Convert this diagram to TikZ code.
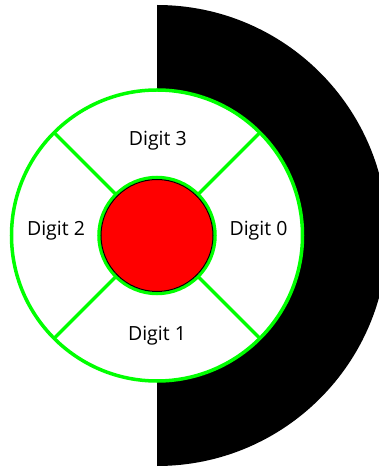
\documentclass[tikz,border=0pt]{standalone}
\usepackage{fontspec}
\setmainfont{Open Sans}
\usetikzlibrary{positioning}

\begin{document}
\begin{tikzpicture}[
  x=1pt, y=1pt,
  ring/.style={draw=green, line width=3.5pt, circle, inner sep=0pt, outer sep=0pt},
  spoke/.style={draw=green, line width=3.5pt},
  digit/.style={font=\fontsize{19.5}{19.5}\selectfont, inner sep=0pt, anchor=base}
]
\useasboundingbox (-157,-232.5) rectangle (221,235.5);
\begin{scope}
\clip (-160,-235) rectangle (226,238);
\fill[black] (0,-230.5) arc[start angle=-90, end angle=90, radius=230.5] -- cycle;
\end{scope}

\node[ring, fill=white, minimum size=291pt] (rim) at (0,0) {};
\node[ring, minimum size=116pt] (hub) at (0,0) {};
\node[circle, draw=black, line width=1pt, fill=red, inner sep=0pt, minimum size=112pt] (core) at (0,0) {};

\draw[spoke] (hub.45) -- (rim.45);
\draw[spoke] (hub.135) -- (rim.135);
\draw[spoke] (hub.225) -- (rim.225);
\draw[spoke] (hub.315) -- (rim.315);

\node[digit] (d0) at (101.5,-0.2) {Digit 0};
\node[digit] (d1) at (0,-105.2) {Digit 1};
\node[digit] (d2) at (-101,-0.2) {Digit 2};
\node[digit] (d3) at (0.8,89.8) {Digit 3};
\end{tikzpicture}
\end{document}
